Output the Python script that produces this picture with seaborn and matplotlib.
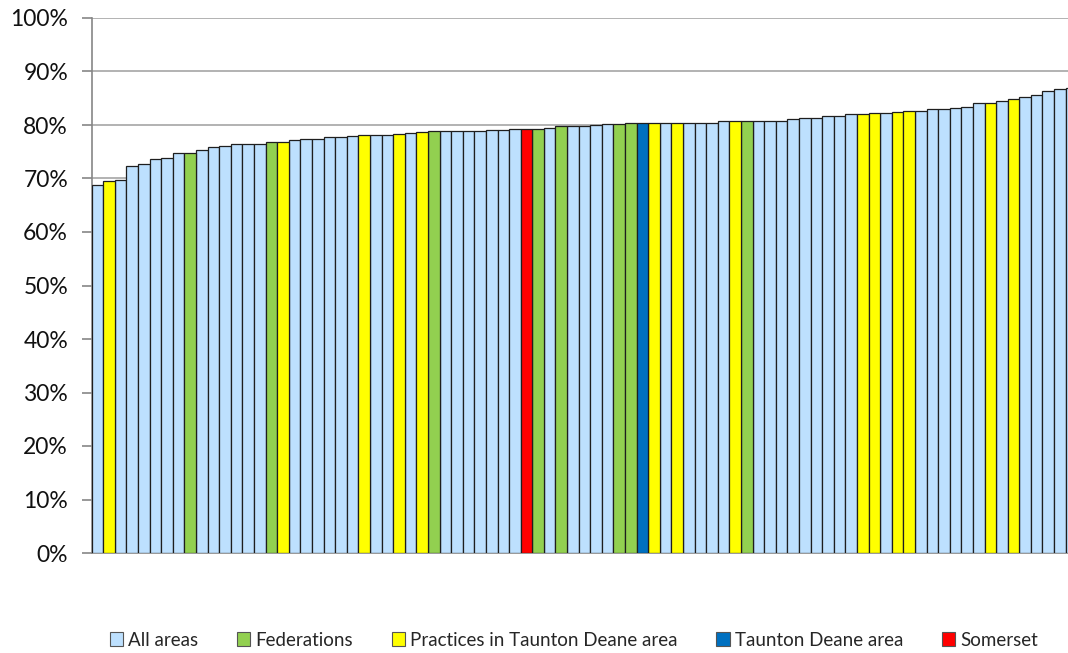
import matplotlib
matplotlib.use("Agg")
import matplotlib.pyplot as plt
from matplotlib.patches import Patch
import seaborn as sns
import pandas as pd

series_names = ["All areas", "Federations", "Practices in Taunton Deane area",
                "Taunton Deane area", "Somerset"]
code_map = {"A": "All areas", "F": "Federations", "P": "Practices in Taunton Deane area",
            "T": "Taunton Deane area", "S": "Somerset"}
colors = ["#BDE0FE", "#92D050", "#FFFF00", "#0070C0", "#FF0000"]

values = [68.7, 69.5, 69.7, 72.3, 72.8, 73.6, 73.8, 74.8, 74.8, 75.3,
          75.8, 76.1, 76.4, 76.4, 76.4, 76.8, 76.9, 77.2, 77.4, 77.4,
          77.7, 77.7, 77.9, 78.1, 78.1, 78.1, 78.4, 78.5, 78.7, 78.8,
          78.8, 78.9, 78.9, 78.9, 79.1, 79.1, 79.3, 79.3, 79.3, 79.4,
          79.8, 79.8, 79.9, 80.0, 80.1, 80.1, 80.3, 80.3, 80.3, 80.3,
          80.3, 80.4, 80.4, 80.4, 80.7, 80.7, 80.7, 80.8, 80.8, 80.8,
          81.1, 81.4, 81.4, 81.6, 81.6, 82.0, 82.1, 82.2, 82.2, 82.4,
          82.7, 82.7, 82.9, 82.9, 83.1, 83.4, 84.2, 84.2, 84.4, 84.8,
          85.2, 85.6, 86.3, 86.7, 87.0]

codes = list("APAAAAAAFAAAAAAFPAAAAAAPAAPAPFAAAAAAASFAFAAAAFFTPAPAAAAPF"
             "AAAAAAAAAPPAPPAAAAAAPAPAAAAA")

yticks = [0, 10, 20, 30, 40, 50, 60, 70, 80, 90, 100]
ytick_labels = ["0%", "10%", "20%", "30%", "40%", "50%", "60%", "70%", "80%", "90%", "100%"]

df = pd.DataFrame({"idx": list(range(len(values))), "val": values,
                   "cat": [code_map[c] for c in codes]})

sns.set_theme(style="white")
plt.rcParams["font.family"] = ["Lato", "DejaVu Sans"]

fig = plt.figure(figsize=(10.68, 6.53), dpi=100)
ax = fig.add_axes([91.67 / 1068, 1 - 553 / 653, 1 - 91.67 / 1068, (553 - 18) / 653])

sns.barplot(data=df, x="idx", y="val", hue="cat", hue_order=series_names,
            palette=colors, saturation=1, dodge=False, width=1.0, edgecolor="#1e1e1e",
            linewidth=0.9, legend=False, ax=ax, zorder=3)

ax.set_ylim(0, 100)
ax.set_xlim(-0.5, 83.7)
ax.set_yticks(yticks)
ax.set_yticklabels(ytick_labels, fontsize=16.5, color="#111111")
ax.set_xticks([])
ax.set_xlabel("")
ax.set_ylabel("")
ax.yaxis.grid(True, color="#A6A6A6", linewidth=1.2, zorder=0)
ax.set_axisbelow(True)
for s in ["top", "right"]:
    ax.spines[s].set_visible(False)
ax.spines["left"].set_color("#868686")
ax.spines["bottom"].set_color("#868686")
ax.spines["left"].set_linewidth(1.2)
ax.spines["bottom"].set_linewidth(1.2)
ax.tick_params(axis="y", which="major", left=True, length=7, width=1.2,
               color="#868686", pad=10)

handles = [Patch(facecolor=c, edgecolor="#555555", linewidth=0.8) for c in colors]
fig.legend(handles, series_names, loc="center", bbox_to_anchor=(574 / 1068, 1 - 640 / 653),
           ncol=5, frameon=False, fontsize=13.5, handlelength=0.7, handleheight=0.7,
           handletextpad=0.3, columnspacing=2.05)

fig.savefig("out.png", dpi=100)
